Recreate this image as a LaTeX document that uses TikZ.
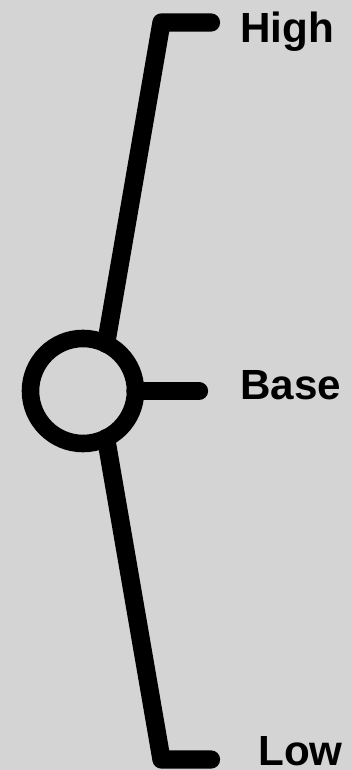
\documentclass[tikz,border=0pt]{standalone}
\usepackage{fontspec}
\setmainfont{Liberation Sans}
\usetikzlibrary{calc}
\definecolor{bggray}{RGB}{212,212,212}

\begin{document}
\begin{tikzpicture}[x=0.025cm, y=0.025cm,
    bar/.style={line width=13pt, line cap=round, line join=round},
    lbl/.style={anchor=base west, inner sep=0pt, font=\bfseries\fontsize{30}{36}\selectfont}]
    % background, 352 x 770
    \fill[bggray] (0,0) rectangle (352,770);
    \useasboundingbox (0,0) rectangle (352,770);

    \coordinate (O) at (83,379);
    \coordinate (H) at (161.5,747.5);
    \coordinate (L) at (161.5,10.5);
    \coordinate (HE) at (211,747.5);
    \coordinate (LE) at (211,10.5);
    \coordinate (BE) at (199,379);

    % the ring
    \node[draw, circle, line width=12.5pt, minimum size=2.625cm, inner sep=0pt, outer sep=0pt] (C) at (O) {};

    \draw[bar] (C.64) -- (H) -- (HE);
    \draw[bar] (C.-64) -- (L) -- (LE);
    \draw[bar] (C.east) -- (BE);

    \node[lbl] (high) at (240,727) {High};
    \node[lbl] (base) at (240,370) {Base};
    \node[lbl] (low) at (258,5) {Low};
\end{tikzpicture}
\end{document}
